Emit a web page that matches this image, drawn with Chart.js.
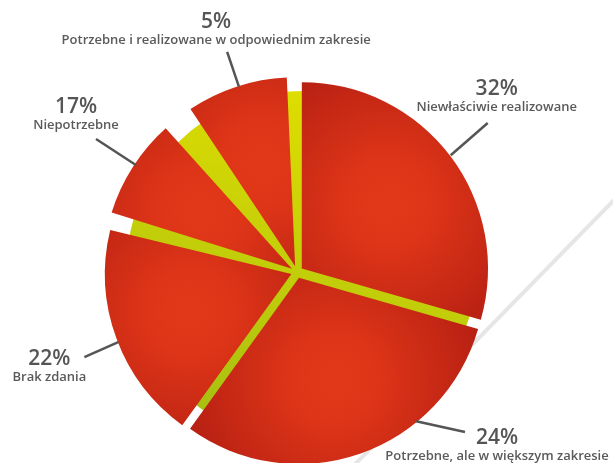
<!DOCTYPE html>
<html>
<head>
<meta charset="utf-8">
<script src="https://cdn.jsdelivr.net/npm/chart.js@4.4.0/dist/chart.umd.min.js"></script>
<style>
html, body { margin: 0; padding: 0; background: #fff; }
#wrap { position: relative; width: 613px; height: 463px; overflow: hidden; }
#wrap canvas { position: absolute; left: 0; top: 0; }
</style>
</head>
<body>
<div id="wrap">
  <canvas id="base" width="613" height="463"></canvas>
  <canvas id="pie" width="613" height="463"></canvas>
</div>
<script>
var categories = ['Niewłaściwie realizowane', 'Potrzebne, ale w większym zakresie', 'Brak zdania', 'Niepotrzebne', 'Potrzebne i realizowane w odpowiednim zakresie'];
var percents = [32, 24, 22, 17, 5];
// slice sizes as they are drawn in the picture (degrees) - they don't follow the percents
var sliceDegrees = [106, 109.8, 67.9, 31, 31.4];
// yellow wedge left open after each slice (degrees)
var gapDegrees = [0, 0, 3.5, 8, 2.4];

// label layout: leader line start/end (angle from top, radius) and text offset from line end
var labelLayout = [
  { a0: 52.8,  r0: 193, a1: 52,    r1: 242, dx: 9,   dy: -34 },
  { a0: 141.4, r0: 191, a1: 133.6, r1: 232, dx: 32,  dy: 6 },
  { a0: 248.6, r0: 192, a1: 248.2, r1: 229, dx: -35, dy: 2 },
  { a0: 303.6, r0: 193, a1: 303.5, r1: 241, dx: -20, dy: -32 },
  { a0: 342.6, r0: 194, a1: 342.4, r1: 231, dx: -11, dy: -30 }
];

var R = 186;
var EXPLODE = 24;

Chart.defaults.font.family = "'Open Sans', sans-serif";

// build the pie data: red slices with transparent gaps between
var pieData = [], pieKind = [], pieOffset = [];
sliceDegrees.forEach(function (d, i) {
  pieData.push(d); pieKind.push(i); pieOffset.push(EXPLODE);
  if (gapDegrees[i] > 0) { pieData.push(gapDegrees[i]); pieKind.push(-1); pieOffset.push(0); }
});

function areaCenter(chart) {
  var a = chart.chartArea;
  return { x: (a.left + a.right) / 2, y: (a.top + a.bottom) / 2 };
}

function redFill(c) {
  if (pieKind[c.dataIndex] < 0) return 'rgba(0,0,0,0)';
  var chart = c.chart;
  if (!chart.chartArea) return '#c82815';
  var ctr = areaCenter(chart);
  var total = pieData.reduce(function (s, v) { return s + v; }, 0);
  var before = 0;
  for (var k = 0; k < c.dataIndex; k++) before += pieData[k];
  var mid = (before + pieData[c.dataIndex] / 2) / total * Math.PI * 2 - Math.PI / 2;
  var gx = ctr.x + Math.cos(mid) * R * 0.58;
  var gy = ctr.y + Math.sin(mid) * R * 0.58;
  var g = chart.ctx.createRadialGradient(gx, gy, 0, gx, gy, R * 0.9);
  g.addColorStop(0, '#e2381a');
  g.addColorStop(0.25, '#de3518');
  g.addColorStop(1, '#b11d12');
  return g;
}

function yellowFill(c) {
  var chart = c.chart;
  if (!chart.chartArea) return '#cccc00';
  var ctr = areaCenter(chart);
  var g = chart.ctx.createLinearGradient(ctr.x, ctr.y - 175, ctr.x - 90, ctr.y + 160);
  g.addColorStop(0, '#dfdd00');
  g.addColorStop(1, '#a6bf12');
  return g;
}

// light grey diagonal behind the pie
var backLine = {
  id: 'backLine',
  beforeDatasetsDraw: function (chart) {
    var ctx = chart.ctx;
    ctx.save();
    ctx.strokeStyle = '#e6e6e6';
    ctx.lineWidth = 4;
    ctx.beginPath();
    ctx.moveTo(chart.width + 2, chart.height * 0.43);
    ctx.lineTo(chart.width * 0.578, chart.height + 2);
    ctx.stroke();
    ctx.restore();
  }
};

var sliceLabels = {
  id: 'sliceLabels',
  afterDatasetsDraw: function (chart) {
    var ctx = chart.ctx;
    var ctr = { x: chart.getDatasetMeta(0).data[0].x, y: chart.getDatasetMeta(0).data[0].y };
    ctx.save();
    labelLayout.forEach(function (l, i) {
      var a0 = l.a0 * Math.PI / 180, a1 = l.a1 * Math.PI / 180;
      var x0 = ctr.x + Math.sin(a0) * l.r0, y0 = ctr.y - Math.cos(a0) * l.r0;
      var x1 = ctr.x + Math.sin(a1) * l.r1, y1 = ctr.y - Math.cos(a1) * l.r1;
      ctx.strokeStyle = '#555555';
      ctx.lineWidth = 2.5;
      ctx.beginPath();
      ctx.moveTo(x0, y0);
      ctx.lineTo(x1, y1);
      ctx.stroke();

      ctx.textAlign = 'center';
      ctx.textBaseline = 'middle';
      ctx.fillStyle = '#555555';
      ctx.font = "600 21px 'Open Sans', sans-serif";
      ctx.fillText(percents[i] + '%', x1 + l.dx, y1 + l.dy);
      ctx.fillStyle = '#5a5a5a';
      ctx.font = "600 13px 'Open Sans', sans-serif";
      ctx.fillText(categories[i], x1 + l.dx, y1 + l.dy + 18);
    });
    ctx.restore();
  }
};

new Chart(document.getElementById('base'), {
  type: 'pie',
  data: {
    labels: ['tło'],
    datasets: [{
      data: [pieData.reduce(function (s, v) { return s + v; }, 0)],
      backgroundColor: yellowFill,
      borderWidth: 0
    }]
  },
  options: {
    responsive: false,
    animation: false,
    events: [],
    radius: 175,
    layout: { padding: { left: 0, right: 9, top: 69, bottom: 0 } },
    plugins: { legend: { display: false }, tooltip: { enabled: false } }
  },
  plugins: [backLine]
});

new Chart(document.getElementById('pie'), {
  type: 'pie',
  data: {
    labels: pieKind.map(function (k) { return k >= 0 ? categories[k] : ''; }),
    datasets: [{
      data: pieData,
      backgroundColor: redFill,
      offset: pieOffset,
      borderWidth: 0
    }]
  },
  options: {
    responsive: false,
    animation: false,
    events: [],
    radius: R,
    layout: { padding: { left: 0, right: 19, top: 81, bottom: 0 } },
    plugins: { legend: { display: false }, tooltip: { enabled: false } }
  },
  plugins: [sliceLabels]
});
</script>
</body>
</html>
